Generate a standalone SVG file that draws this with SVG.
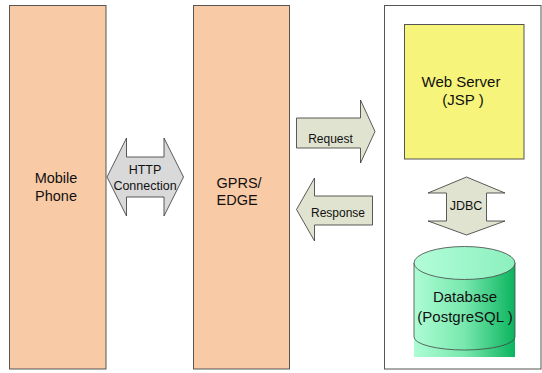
<svg xmlns="http://www.w3.org/2000/svg" width="542" height="373" viewBox="0 0 542 373">
<style>
.box{fill:#f9caa6;stroke:#555;stroke-width:1}
.t{font-family:"Liberation Sans",Arial,sans-serif;fill:#111}
.big{font-size:14.5px}
.sm{font-size:12px}
.arr{stroke:#333;stroke-width:0.8}
.olive{fill:#e0e3cf}
</style>
<defs>
<linearGradient id="body" x1="0" y1="0" x2="1" y2="0">
<stop offset="0" stop-color="#aefcd4"/>
<stop offset="0.5" stop-color="#78e8ae"/>
<stop offset="1" stop-color="#0bb45e"/>
</linearGradient>
<linearGradient id="top" x1="0" y1="0" x2="1" y2="0">
<stop offset="0" stop-color="#b2fdd8"/>
<stop offset="1" stop-color="#8cefbe"/>
</linearGradient>
</defs>
<rect width="542" height="373" fill="#fff"/>
<g id="mobile">
<rect class="box" x="9.5" y="5.5" width="96.5" height="363.5"/>
<text class="t big" x="56" y="183" text-anchor="middle">Mobile</text>
<text class="t big" x="56" y="201" text-anchor="middle">Phone</text>
</g>
<g id="gprs">
<rect class="box" x="193.5" y="5.5" width="96" height="363.5"/>
<text class="t big" x="216.5" y="187.5">GPRS/</text>
<text class="t big" x="216.5" y="204.5">EDGE</text>
</g>
<g id="server-side">
<rect x="384.5" y="5.5" width="156.5" height="363.5" fill="#fff" stroke="#555" stroke-width="1"/>
</g>
<g id="webserver">
<rect x="404.5" y="24.5" width="119.5" height="134.5" fill="#f6f47a" stroke="#555" stroke-width="1"/>
<text class="t big" x="461" y="87" font-size="15" text-anchor="middle" style="font-size:15px">Web Server</text>
<text class="t big" x="463" y="105" text-anchor="middle" style="font-size:15px">(JSP )</text>
</g>
<g id="database">
<rect x="414" y="337" width="101" height="20" fill="url(#body)"/>
<path d="M414,263 L414,337 A50.5,13 0 0 0 515,337 L515,263 Z" fill="url(#body)" stroke="#444" stroke-width="0.8"/>
<ellipse cx="464.5" cy="263" rx="50.5" ry="16.5" fill="url(#top)" stroke="#444" stroke-width="0.8"/>
<text class="t" x="465" y="301.5" text-anchor="middle" style="font-size:15px">Database</text>
<text class="t" x="465" y="321.7" text-anchor="middle" style="font-size:15px">(PostgreSQL )</text>
</g>
<g id="connectors">
<g id="http">
<path class="arr" fill="#d9d9d9" d="M107,177 L126.5,138 L126.5,157 L164,157 L164,138 L183.5,177 L164,216 L164,197 L126.5,197 L126.5,216 Z"/>
<text class="t" x="145" y="174" text-anchor="middle" style="font-size:12.5px">HTTP</text>
<text class="t" x="145" y="190" text-anchor="middle" style="font-size:12.5px">Connection</text>
</g>
<g id="request">
<path class="arr olive" d="M296.5,118 L360.5,118 L360.5,100 L375,131.5 L360.5,163 L360.5,148 L296.5,148 Z"/>
<text class="t sm" x="330.5" y="143.3" text-anchor="middle">Request</text>
</g>
<g id="response">
<path class="arr olive" d="M372.5,196 L314.5,196 L314.5,178 L296.5,209.5 L314.5,241 L314.5,225 L372.5,225 Z"/>
<text class="t sm" x="338" y="217.3" text-anchor="middle">Response</text>
</g>
<g id="jdbc">
<path class="arr olive" d="M466.5,177 L505,193 L486.5,193 L486.5,221 L505,221 L466.5,235 L428,221 L446.5,221 L446.5,193 L428,193 Z"/>
<text class="t" x="466" y="209.5" text-anchor="middle" style="font-size:12.5px">JDBC</text>
</g>
</g>
</svg>
